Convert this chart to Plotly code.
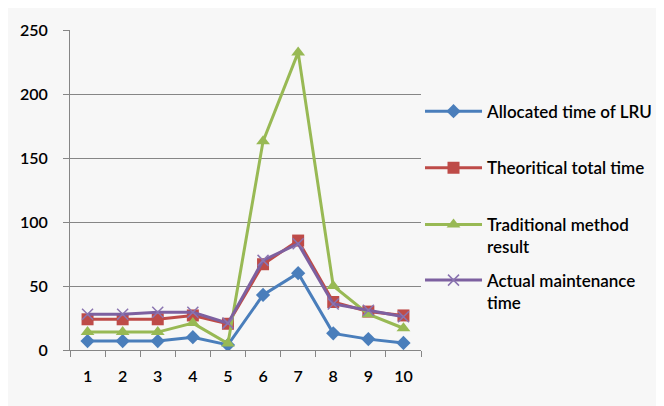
import plotly.graph_objects as go

categories = ["1", "2", "3", "4", "5", "6", "7", "8", "9", "10"]
allocated = [7, 7, 7, 10, 4, 43, 60, 13, 8.5, 5.5]
theoretical = [24, 24, 24, 27, 20.5, 67, 85.5, 37.5, 30, 27]
traditional = [14, 14, 14, 21, 5, 163, 232.5, 50, 28, 17]
actual = [28, 28, 29.5, 29.5, 21, 70, 83, 36, 31, 26]

names = ["Allocated time of LRU", "Theoritical total time",
         "Traditional method<br>result", "Actual maintenance<br>time"]
colors = ["#4a7ebb", "#be4b48", "#98b954", "#7d60a0"]
symbols = ["diamond", "square", "triangle-up", "x-thin"]
sizes = [11, 12, 12, 11]
series = [allocated, theoretical, traditional, actual]

fig = go.Figure()
legend_ids = ["legend", "legend2", "legend3", "legend4"]
for i, (vals, nm, c, s, sz) in enumerate(zip(series, names, colors, symbols, sizes)):
    marker = dict(symbol=s, size=sz, color=c)
    if s == "x-thin":
        marker = dict(symbol=s, size=sz, color="#8a74b0", line=dict(width=1.5, color="#8a74b0"))
    fig.add_trace(go.Scatter(
        x=categories, y=vals, name=nm, mode="lines+markers",
        line=dict(color=c, width=3), marker=marker,
        legend=legend_ids[i],
    ))

# page is offset by 8px body margin
OFF = 8
W, H = 664, 406
L, R, T, B = 67 - OFF, W - (421 - OFF), 28 - OFF, H - (350 - OFF)
pw, ph = W - L - R, H - T - B

def px(xp):
    return (xp - OFF - L) / pw

def py(yp):
    return (H - B - (yp - OFF)) / ph

legend_font = dict(family="Lato, sans-serif", size=17, color="#000000", weight=600)
leg_common = dict(font=legend_font, bgcolor="rgba(0,0,0,0)", xanchor="left",
                  yanchor="top", itemwidth=57, valign="top", tracegroupgap=0)
legend_tops = [92, 149, 206, 262]
layout_legends = {}
for lid, top in zip(legend_ids, legend_tops):
    layout_legends[lid] = dict(leg_common, x=px(420), y=py(top))

tick_font = dict(family="Lato, sans-serif", size=16, color="#000000", weight=600)

fig.update_layout(
    width=W, height=H,
    margin=dict(l=L, r=R, t=T, b=B),
    paper_bgcolor="#f7f7f7",
    plot_bgcolor="#f7f7f7",
    showlegend=True,
    **layout_legends,
    xaxis=dict(
        type="category", range=[-0.5, 9.5], tickson="boundaries",
        ticks="outside", ticklen=6, tickcolor="#868686", tickwidth=1,
        showgrid=False, showline=True, linecolor="#868686", linewidth=1,
        tickfont=tick_font, ticklabelstandoff=12, zeroline=False,
    ),
    yaxis=dict(
        range=[0, 250], tickvals=[0, 50, 100, 150, 200, 250],
        ticks="outside", ticklen=6, tickcolor="#868686", tickwidth=1,
        showgrid=True, gridcolor="#868686", gridwidth=1,
        showline=True, linecolor="#868686", linewidth=1, zeroline=False,
        tickfont=tick_font, ticklabelstandoff=12,
    ),
)

fig.write_html("out.html")
